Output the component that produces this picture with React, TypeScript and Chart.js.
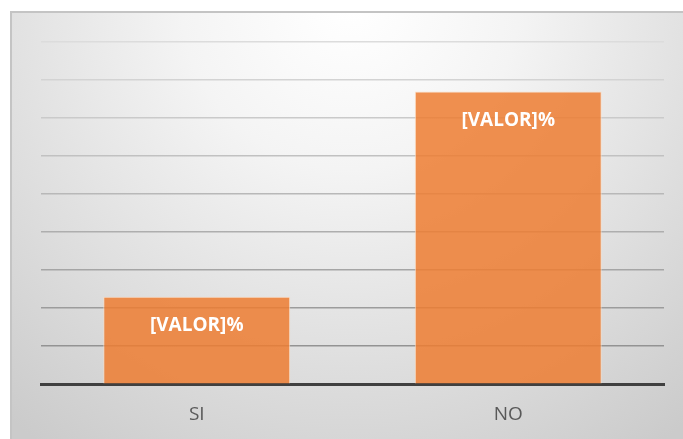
import React, { useEffect, useRef } from "react";
import { Chart, registerables } from "chart.js";

Chart.register(...registerables);

const categories = ["SI", "NO"];
const values = [23, 77];
const labels = ["[VALOR]%", "[VALOR]%"];
const yMax = 90;
const yStep = 10;

const bgPlugin = {
  id: "bgPlugin",
  beforeDraw(chart: any) {
    const { ctx, width, height } = chart;
    ctx.save();
    const x0 = 11, y0 = 12;
    const g = ctx.createRadialGradient(350, 0, 10, 350, 0, 540);
    g.addColorStop(0, "#ffffff");
    g.addColorStop(0.3, "#f4f4f4");
    g.addColorStop(1, "#cbcbcb");
    ctx.fillStyle = g;
    ctx.fillRect(x0, y0, width - x0, height - y0);
    ctx.strokeStyle = "#c4c4c4";
    ctx.lineWidth = 2;
    ctx.beginPath();
    ctx.moveTo(x0, height);
    ctx.lineTo(x0, y0);
    ctx.lineTo(width, y0);
    ctx.stroke();
    ctx.restore();
  },
};

const labelPlugin = {
  id: "labelPlugin",
  afterDatasetsDraw(chart: any) {
    const { ctx } = chart;
    const meta = chart.getDatasetMeta(0);
    ctx.save();
    ctx.font = "bold 19px 'Open Sans', 'Noto Sans', sans-serif";
    ctx.fillStyle = "#ffffff";
    ctx.textAlign = "center";
    ctx.textBaseline = "middle";
    meta.data.forEach((bar: any, i: number) => {
      ctx.fillText(labels[i], bar.x, bar.y + 29);
    });
    ctx.restore();
  },
};

export default function App() {
  const ref = useRef<HTMLCanvasElement>(null);
  useEffect(() => {
    if (!ref.current) return;
    const nTicks = yMax / yStep + 1;
    const gridColors: string[] = [];
    for (let i = 0; i < nTicks; i++) {
      const t = i / (nTicks - 1);
      const c = Math.round(0x8a + (0xdc - 0x8a) * t);
      gridColors.push(i === 0 ? "rgba(0,0,0,0)" : `rgb(${c},${c},${c})`);
    }
    const chart = new Chart(ref.current, {
      type: "bar",
      data: {
        labels: categories,
        datasets: [
          {
            data: values,
            backgroundColor: "rgba(237,125,49,0.85)",
            borderColor: "rgba(255,220,190,0.8)",
            borderWidth: 1,
            barPercentage: 0.6,
            categoryPercentage: 1,
          },
        ],
      },
      options: {
        responsive: false,
        animation: false,
        maintainAspectRatio: false,
        layout: { padding: { left: 41, right: 19, top: 42, bottom: 2 } },
        plugins: { legend: { display: false }, tooltip: { enabled: false } },
        scales: {
          x: {
            grid: { display: false },
            border: { display: true, color: "#404040", width: 3 },
            ticks: {
              color: "#595959",
              font: { size: 19, family: "'Open Sans', 'Noto Sans', sans-serif" },
              padding: 11,
            },
          },
          y: {
            min: 0,
            max: yMax,
            ticks: { stepSize: yStep, display: false },
            border: { display: false },
            grid: { color: gridColors, lineWidth: 1.5, drawTicks: false },
          },
        },
      },
      plugins: [bgPlugin, labelPlugin],
    });
    return () => chart.destroy();
  }, []);
  return (
    <div style={{ position: "absolute", left: 0, top: 0, width: 683, height: 439 }}>
      <canvas ref={ref} width={683} height={439} style={{ display: "block" }} />
    </div>
  );
}
